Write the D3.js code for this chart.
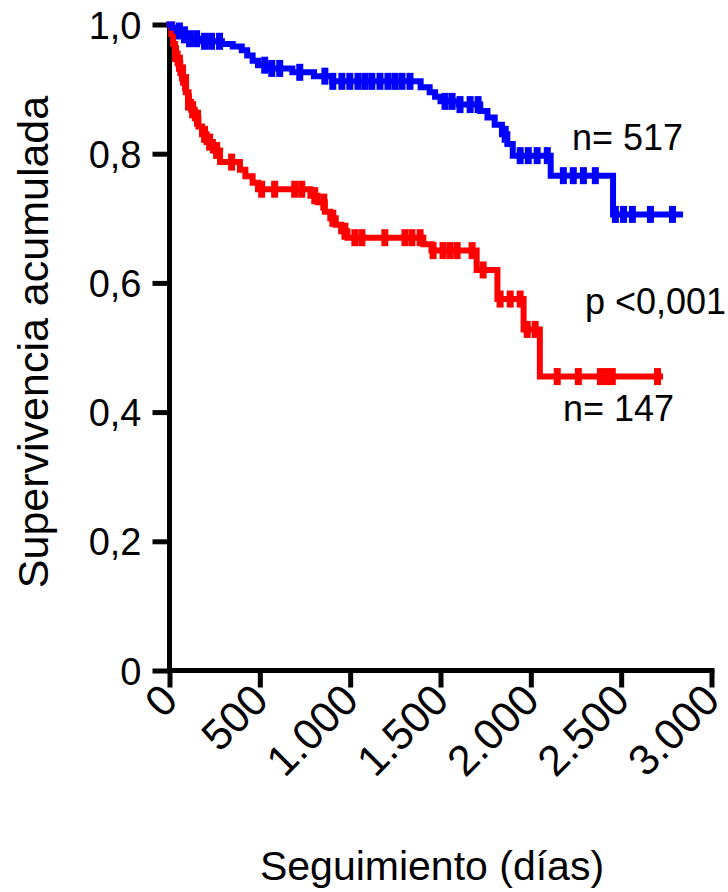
<!DOCTYPE html>
<html>
<head>
<meta charset="utf-8">
<script src="https://cdn.jsdelivr.net/npm/d3@7/dist/d3.min.js"></script>
<style>
  html, body { margin: 0; padding: 0; background: #fff; }
  svg { display: block; }
  text { font-family: "Liberation Sans", Arial, Helvetica, sans-serif; fill: #000; }
</style>
</head>
<body>
<svg id="chart" width="728" height="892"></svg>
<script>
// Kaplan-Meier survival: blue group (n = 517) and red group (n = 147)
const blueEventDays = [0, 15, 40, 70, 110, 160, 290, 350, 400, 430, 460, 490, 560, 680, 800, 900,
  1390, 1440, 1470, 1500, 1600, 1720, 1760, 1800, 1840, 1870, 1900, 2110, 2455];
const blueSurvival = [1.0, 0.995, 0.99, 0.984, 0.978, 0.974, 0.970, 0.966, 0.960, 0.952, 0.944, 0.937, 0.932, 0.926, 0.920, 0.912,
  0.903, 0.895, 0.888, 0.881, 0.876, 0.866, 0.856, 0.845, 0.830, 0.815, 0.797, 0.766, 0.706];
const blueLastDay = 2826;
const blueCensored = [55, 83, 111, 150, 194, 233, 277, 527, 566, 610, 721, 860, 904, 954, 998, 1043, 1082,
  1120, 1165, 1209, 1248, 1287, 1331, 1525, 1564, 1608, 1664, 1708, 1858, 1941, 1986, 2035, 2091,
  2180, 2235, 2291, 2357, 2468, 2513, 2562, 2662, 2784];

const redEventDays = [0, 10, 20, 30, 45, 60, 75, 90, 105, 120, 140, 160, 180, 205, 240, 280, 390, 420, 460, 490,
  780, 820, 860, 890, 920, 950, 985, 1405, 1450, 1700, 1815, 1960, 2050];
const redSurvival = [1.0, 0.985, 0.97, 0.955, 0.94, 0.925, 0.91, 0.895, 0.88, 0.868, 0.855, 0.842, 0.83, 0.818, 0.805, 0.787,
  0.775, 0.765, 0.755, 0.745, 0.735, 0.725, 0.71, 0.70, 0.69, 0.68, 0.67, 0.66, 0.65, 0.62, 0.575, 0.528, 0.455];
const redLastDay = 2715;
const redCensored = [33, 55, 72, 89, 105, 128, 155, 194, 222, 261, 344, 510, 582, 693, 732, 804, 854, 904,
  971, 1026, 1065, 1192, 1303, 1342, 1387, 1459, 1514, 1553, 1592, 1675, 1736, 1830, 1886, 1941, 1980,
  2024, 2146, 2263, 2385, 2418, 2451, 2701];

const xTickValues = [0, 500, 1000, 1500, 2000, 2500, 3000];
const xTickLabels = ["0", "500", "1.000", "1.500", "2.000", "2.500", "3.000"];
const yTickValues = [0, 0.2, 0.4, 0.6, 0.8, 1.0];
const yTickLabels = ["0", "0,2", "0,4", "0,6", "0,8", "1,0"];

const svg = d3.select("#chart");

const x = d3.scaleLinear().domain([0, 3000]).range([169.5, 711.5]);
const y = d3.scaleLinear().domain([0, 1]).range([670.5, 24.5]);

// axes
const yAxis = d3.axisLeft(y)
  .tickValues(yTickValues)
  .tickFormat((d, i) => yTickLabels[i])
  .tickSize(17)
  .tickSizeOuter(0)
  .tickPadding(11);
const xAxis = d3.axisBottom(x)
  .tickValues(xTickValues)
  .tickFormat((d, i) => xTickLabels[i])
  .tickSize(17)
  .tickSizeOuter(0);

const gy = svg.append("g").attr("transform", "translate(169.5,0)").call(yAxis);
gy.select(".domain").attr("stroke", "#000").attr("stroke-width", 5)
  .attr("d", `M0,${y(1) - 2}V${y(0) + 2}`);
gy.selectAll(".tick line").attr("stroke", "#000").attr("stroke-width", 5);
gy.selectAll(".tick text").style("font-size", "38px").attr("dy", "0.36em");

const gx = svg.append("g").attr("transform", "translate(0,670.5)").call(xAxis);
gx.select(".domain").attr("stroke", "#000").attr("stroke-width", 5)
  .attr("d", `M${x(0) - 2},0H${x(3000) + 3}`);
gx.selectAll(".tick line").attr("stroke", "#000").attr("stroke-width", 5);
gx.selectAll(".tick text")
  .style("font-size", "43px")
  .attr("text-anchor", "end")
  .attr("y", 0)
  .attr("dy", 0)
  .attr("transform", "translate(10,32) rotate(-45)");

// survival curves
function stepPoints(days, surv, lastDay) {
  const pts = days.map((d, i) => [d, surv[i]]);
  pts.push([lastDay, surv[surv.length - 1]]);
  return pts;
}
function survivalAt(days, surv, t) {
  let s = surv[0];
  for (let i = 0; i < days.length; i++) if (days[i] <= t) s = surv[i];
  return s;
}

const line = d3.line()
  .x(d => x(d[0]))
  .y(d => y(d[1]))
  .curve(d3.curveStepAfter);

const groups = [
  { color: "#0000ff", days: blueEventDays, surv: blueSurvival, last: blueLastDay, cens: blueCensored },
  { color: "#ff0000", days: redEventDays, surv: redSurvival, last: redLastDay, cens: redCensored }
];

// red drawn first so blue sits on top at the start
groups.slice().reverse().forEach(g => {
  const layer = svg.append("g");
  layer.append("path")
    .datum(stepPoints(g.days, g.surv, g.last))
    .attr("d", line)
    .attr("fill", "none")
    .attr("stroke", g.color)
    .attr("stroke-width", 6)
    .attr("stroke-linejoin", "miter")
    .attr("stroke-linecap", "square");
  layer.selectAll("rect.cens")
    .data(g.cens)
    .join("rect")
    .attr("class", "cens")
    .attr("x", d => x(d) - 3.5)
    .attr("y", d => y(survivalAt(g.days, g.surv, d)) - 8.5)
    .attr("width", 7)
    .attr("height", 17)
    .attr("fill", g.color);
});

// annotations
svg.append("text").attr("x", 572).attr("y", 150).style("font-size", "36px").text("n= 517");
svg.append("text").attr("x", 585).attr("y", 314).style("font-size", "36px").text("p <0,001");
svg.append("text").attr("x", 563).attr("y", 421).style("font-size", "36px").text("n= 147");

// axis titles
svg.append("text")
  .attr("transform", "translate(48,342) rotate(-90)")
  .attr("text-anchor", "middle")
  .style("font-size", "43px")
  .text("Supervivencia acumulada");
svg.append("text")
  .attr("x", 432).attr("y", 880)
  .attr("text-anchor", "middle")
  .style("font-size", "41px")
  .text("Seguimiento (días)");
</script>
</body>
</html>
